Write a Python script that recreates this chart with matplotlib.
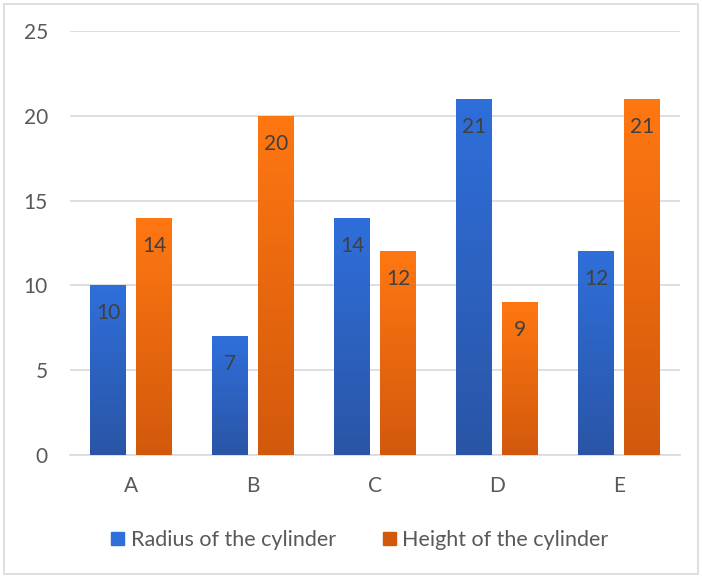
import numpy as np
import matplotlib.pyplot as plt
from matplotlib.patches import Rectangle
from matplotlib.colors import LinearSegmentedColormap

categories = ["A", "B", "C", "D", "E"]
radius = [10, 7, 14, 21, 12]
height = [14, 20, 12, 9, 21]
series_names = ["Radius of the cylinder", "Height of the cylinder"]

plt.rcParams["font.family"] = ["Lato", "DejaVu Sans"]

fig = plt.figure(figsize=(7.02, 5.78), dpi=100)
ax = fig.add_axes([70 / 702, 123 / 578, 610 / 702, 424 / 578])

x = np.arange(len(categories))
w = 0.295
gap = 0.082

# gradient colours (top, bottom)
blue = ("#2F6FDB", "#2A55A6")
orange = ("#FF7712", "#D2590C")


def gradient_bars(xs, vals, cols):
    bars = ax.bar(xs, vals, w, color=cols[0], zorder=2)
    grad = np.linspace(0, 1, 256).reshape(-1, 1)
    cmap = LinearSegmentedColormap.from_list("g", [cols[1], cols[0]])
    for b in bars:
        im = ax.imshow(grad, cmap=cmap, aspect="auto", origin="lower",
                       extent=[b.get_x(), b.get_x() + b.get_width(), 0, b.get_height()],
                       zorder=3)
        im.set_clip_path(b)
    return bars


b1 = gradient_bars(x - w / 2 - gap / 2, radius, blue)
b2 = gradient_bars(x + w / 2 + gap / 2, height, orange)

for bars, vals in ((b1, radius), (b2, height)):
    for b, v in zip(bars, vals):
        ax.annotate(str(v), (b.get_x() + b.get_width() / 2, v),
                    xytext=(0, -28), textcoords="offset pixels",
                    ha="center", va="center", fontsize=15, color="#404040", zorder=4)

ax.set_xlim(-0.5, len(categories) - 0.5)
ax.set_ylim(0, 25)
ax.set_yticks([0, 5, 10, 15, 20, 25])
ax.set_xticks(x)
ax.set_xticklabels(categories)
ax.grid(axis="y", color="#D9DDE3", linewidth=1.3, zorder=0)
for s in ["top", "right", "left"]:
    ax.spines[s].set_visible(False)
ax.spines["bottom"].set_color("#D9DDE3")
ax.spines["bottom"].set_linewidth(1.3)
ax.tick_params(axis="both", length=0, labelsize=15, colors="#595959")
ax.tick_params(axis="y", pad=16)
ax.tick_params(axis="x", pad=15)

handles = [Rectangle((0, 0), 1, 1, color=blue[0]), Rectangle((0, 0), 1, 1, color=orange[1])]
fig.legend(handles, series_names, loc="center", bbox_to_anchor=(360 / 702, 1 - 540 / 578),
           ncol=2, frameon=False, fontsize=15.5, labelcolor="#595959",
           handlelength=0.6, handleheight=0.6, handletextpad=0.3, columnspacing=2.2)

fig.patches.append(Rectangle((4 / 702, 4 / 578), 694 / 702, 570 / 578, transform=fig.transFigure,
                             fill=False, edgecolor="#D9DDE3", linewidth=1.3))

fig.savefig("out.png", dpi=100)
